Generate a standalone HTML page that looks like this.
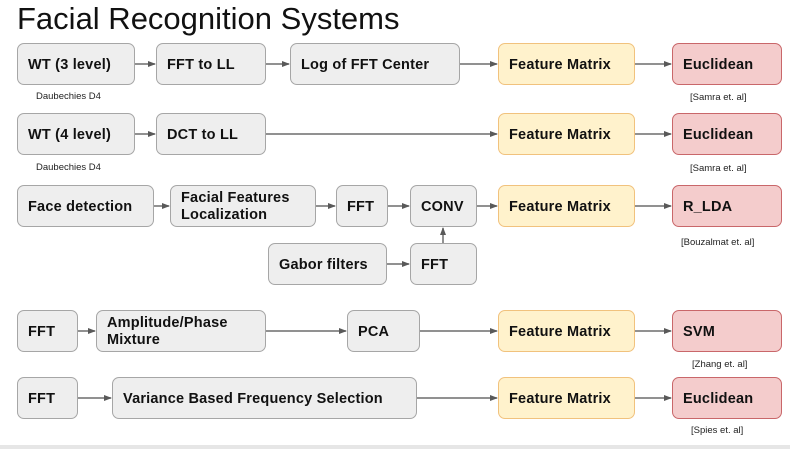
<!DOCTYPE html>
<html><head><meta charset="utf-8"><style>
body{margin:0;width:790px;height:449px;background:#fff;position:relative;overflow:hidden;font-family:"Liberation Sans",Arial,sans-serif}
.b{position:absolute;box-sizing:border-box;border:1.3px solid #a6a6a6;background:#eeeeee;border-radius:7px;display:flex;align-items:center;padding-left:10px;padding-top:2px;font-size:14.5px;font-weight:bold;color:#111;line-height:17px;letter-spacing:0.2px}
.y{background:#fff2cc;border-color:#f1c27d}
.r{background:#f4cccc;border-color:#c9676a}
.s{position:absolute;font-size:9.5px;color:#222;white-space:nowrap}
svg{position:absolute;left:0;top:0}
</style></head><body>
<div style="position:absolute;left:17px;top:1px;font-size:31px;color:#111">Facial Recognition Systems</div>
<svg width="790" height="449"><defs><marker id="a" markerWidth="8" markerHeight="8" refX="7" refY="4" orient="auto" markerUnits="userSpaceOnUse"><path d="M0,1 L8,4 L0,7z" fill="#595959"/></marker></defs>
<g stroke="#6d6d6d" stroke-width="1.5" marker-end="url(#a)">
<line x1="135" y1="64" x2="155" y2="64"/><line x1="266" y1="64" x2="289" y2="64"/><line x1="460" y1="64" x2="497" y2="64"/><line x1="635" y1="64" x2="671" y2="64"/>
<line x1="135" y1="134" x2="155" y2="134"/><line x1="266" y1="134" x2="497" y2="134"/><line x1="635" y1="134" x2="671" y2="134"/>
<line x1="154" y1="206" x2="169" y2="206"/><line x1="316" y1="206" x2="335" y2="206"/><line x1="388" y1="206" x2="409" y2="206"/><line x1="477" y1="206" x2="497" y2="206"/><line x1="635" y1="206" x2="671" y2="206"/>
<line x1="387" y1="264" x2="409" y2="264"/><line x1="443" y1="243" x2="443" y2="228"/>
<line x1="78" y1="331" x2="95" y2="331"/><line x1="266" y1="331" x2="346" y2="331"/><line x1="420" y1="331" x2="497" y2="331"/><line x1="635" y1="331" x2="671" y2="331"/>
<line x1="78" y1="398" x2="111" y2="398"/><line x1="417" y1="398" x2="497" y2="398"/><line x1="635" y1="398" x2="671" y2="398"/>
</g></svg>
<div class="b" style="left:17px;top:43px;width:118px;height:42px">WT (3 level)</div>
<div class="b" style="left:156px;top:43px;width:110px;height:42px">FFT to LL</div>
<div class="b" style="left:290px;top:43px;width:170px;height:42px">Log of FFT Center</div>
<div class="b y" style="left:498px;top:43px;width:137px;height:42px">Feature Matrix</div>
<div class="b r" style="left:672px;top:43px;width:110px;height:42px">Euclidean</div>
<div class="s" style="left:36px;top:91px">Daubechies D4</div>
<div class="s" style="left:690px;top:92px">[Samra et. al]</div>
<div class="b" style="left:17px;top:113px;width:118px;height:42px">WT (4 level)</div>
<div class="b" style="left:156px;top:113px;width:110px;height:42px">DCT to LL</div>
<div class="b y" style="left:498px;top:113px;width:137px;height:42px">Feature Matrix</div>
<div class="b r" style="left:672px;top:113px;width:110px;height:42px">Euclidean</div>
<div class="s" style="left:36px;top:162px">Daubechies D4</div>
<div class="s" style="left:690px;top:163px">[Samra et. al]</div>
<div class="b" style="left:17px;top:185px;width:137px;height:42px">Face detection</div>
<div class="b" style="left:170px;top:185px;width:146px;height:42px">Facial Features<br>Localization</div>
<div class="b" style="left:336px;top:185px;width:52px;height:42px">FFT</div>
<div class="b" style="left:410px;top:185px;width:67px;height:42px">CONV</div>
<div class="b y" style="left:498px;top:185px;width:137px;height:42px">Feature Matrix</div>
<div class="b r" style="left:672px;top:185px;width:110px;height:42px">R_LDA</div>
<div class="s" style="left:681px;top:237px">[Bouzalmat et. al]</div>
<div class="b" style="left:268px;top:243px;width:119px;height:42px">Gabor filters</div>
<div class="b" style="left:410px;top:243px;width:67px;height:42px">FFT</div>
<div class="b" style="left:17px;top:310px;width:61px;height:42px">FFT</div>
<div class="b" style="left:96px;top:310px;width:170px;height:42px">Amplitude/Phase<br>Mixture</div>
<div class="b" style="left:347px;top:310px;width:73px;height:42px">PCA</div>
<div class="b y" style="left:498px;top:310px;width:137px;height:42px">Feature Matrix</div>
<div class="b r" style="left:672px;top:310px;width:110px;height:42px">SVM</div>
<div class="s" style="left:692px;top:359px">[Zhang et. al]</div>
<div class="b" style="left:17px;top:377px;width:61px;height:42px">FFT</div>
<div class="b" style="left:112px;top:377px;width:305px;height:42px">Variance Based Frequency Selection</div>
<div class="b y" style="left:498px;top:377px;width:137px;height:42px">Feature Matrix</div>
<div class="b r" style="left:672px;top:377px;width:110px;height:42px">Euclidean</div>
<div class="s" style="left:691px;top:425px">[Spies et. al]</div>
<div style="position:absolute;left:0;top:445px;width:790px;height:4px;background:#e6e6e6"></div>
</body></html>
